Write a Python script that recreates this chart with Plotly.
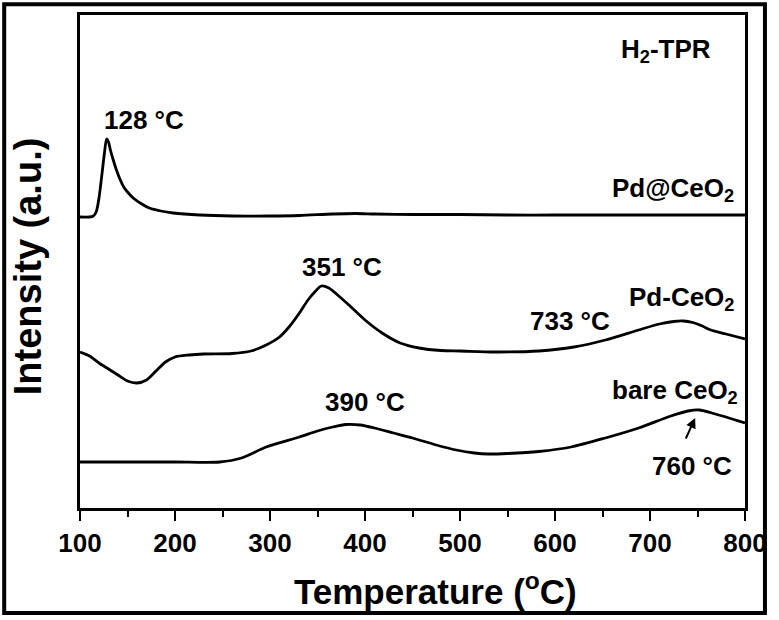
import plotly.graph_objects as go

# H2-TPR profiles, temperature in deg C, intensity in arbitrary units (offset stacked)
pd_at_ceo2_temp = [100, 110, 114, 117, 120, 123, 126, 128, 130, 132, 135, 138, 142, 146,
                   150, 156, 165, 173, 185, 198, 226, 261, 300, 331, 366, 390, 411, 450, 500,
                   550, 600, 650, 700, 750, 800]
pd_at_ceo2_int = [291, 291, 292, 296, 310, 333, 357, 369, 366, 358, 348, 339, 329, 321,
                  316, 310, 304, 300, 297, 295, 293, 292, 292, 292.5, 294, 294.5, 294, 293.5, 293.5,
                  293, 293, 293, 293, 293, 293]

pd_ceo2_temp = [100, 110, 120, 130, 140, 150, 160, 170, 180, 190, 200, 215, 230, 260, 280, 296,
                310, 320, 331, 340, 348, 354, 362, 370, 383, 400, 418, 437, 457, 480, 500,
                537, 583, 620, 653, 688, 710, 725, 735, 745, 755, 764, 780, 800]
pd_ceo2_int = [156, 152, 145, 139, 133, 127, 125, 128, 137, 146, 151, 153, 154, 154.5, 157, 163,
               171, 181, 195, 208, 217, 222, 220, 214, 203, 188, 175, 165, 160, 157.5, 157,
               156, 157, 161, 168, 178, 184, 186.5, 187, 185.5, 182, 178, 174, 169]

bare_ceo2_temp = [100, 150, 200, 247, 270, 296, 331, 350, 366, 380, 395, 410, 430, 450, 475,
                  496, 515, 530, 550, 583, 617, 653, 688, 722, 740, 752, 765, 780, 800]
bare_ceo2_int = [46, 46, 46, 46, 50, 61, 71, 77, 81, 83.5, 83, 80, 75, 70, 63,
                 58, 55, 54, 54.5, 56.5, 61, 70, 80, 92, 97, 98, 95, 91, 85]

x_ticks = [100, 200, 300, 400, 500, 600, 700, 800]

FONT = "Liberation Sans, Arial, sans-serif"

fig = go.Figure()
for xs, ys in [(pd_at_ceo2_temp, pd_at_ceo2_int), (pd_ceo2_temp, pd_ceo2_int),
               (bare_ceo2_temp, bare_ceo2_int)]:
    fig.add_trace(go.Scatter(
        x=xs, y=ys, mode="lines",
        line=dict(color="black", width=2.8, shape="spline", smoothing=0.8),
        showlegend=False, hoverinfo="skip",
    ))

labels = [
    ("<b>128 °C</b>", 167, 388, "center"),
    ("<b>351 °C</b>", 376, 241, "center"),
    ("<b>733 °C</b>", 616, 187, "center"),
    ("<b>390 °C</b>", 400, 106, "center"),
    ("<b>760 °C</b>", 744, 42, "center"),
    ("<b>H<sub>2</sub>-TPR</b>", 766, 458, "right"),
    ("<b>Pd@CeO<sub>2</sub></b>", 790, 319, "right"),
    ("<b>Pd-CeO<sub>2</sub></b>", 790, 210, "right"),
    ("<b>bare CeO<sub>2</sub></b>", 795, 117, "right"),
]
for text, x, y, anchor in labels:
    fig.add_annotation(x=x, y=y, xref="x", yref="y", text=text, showarrow=False,
                       xanchor=anchor, yanchor="middle",
                       font=dict(family=FONT, size=26, color="black"))

# arrow pointing at the 760 C maximum
fig.add_annotation(x=747.5, y=90, ax=737, ay=68, xref="x", yref="y", axref="x", ayref="y",
                   text="", showarrow=True, arrowhead=2, arrowsize=1, arrowwidth=2,
                   arrowcolor="black")

# axis titles
fig.add_annotation(x=0.535, y=-0.165, xref="paper", yref="paper",
                   text="<b>Temperature (<sup>o</sup>C)</b>",
                   showarrow=False, xanchor="center", yanchor="middle",
                   font=dict(family=FONT, size=35, color="black"))
fig.add_annotation(x=-0.077, y=0.49, xref="paper", yref="paper",
                   text="<b>Intensity (a.u.)</b>", showarrow=False, textangle=-90,
                   xanchor="center", yanchor="middle",
                   font=dict(family=FONT, size=38, color="black"))

# outer frame around the whole figure
fig.add_shape(type="rect", xref="paper", yref="paper",
              x0=-0.114, x1=1.03, y0=-0.213, y1=1.022,
              line=dict(color="black", width=4))

fig.update_xaxes(
    range=[100, 800], tickvals=x_ticks, ticks="outside", ticklen=10, tickwidth=2,
    tickcolor="black", showline=True, linewidth=2.5, linecolor="black", mirror=True,
    showgrid=False, zeroline=False,
    tickfont=dict(family=FONT, size=26, color="black", weight="bold"),
    minor=dict(dtick=50, ticks="outside", ticklen=6, tickwidth=2, tickcolor="black",
               showgrid=False),
)
fig.update_yaxes(
    range=[0, 493], showticklabels=False, ticks="", showline=True, linewidth=2.5,
    linecolor="black", mirror=True, showgrid=False, zeroline=False,
)

fig.update_layout(
    width=779, height=620,
    margin=dict(l=80, r=32, t=15, b=112, pad=0),
    plot_bgcolor="white", paper_bgcolor="white",
)

fig.write_html("out.html", config={"displayModeBar": False},
               post_script="document.body.style.margin='0';")
